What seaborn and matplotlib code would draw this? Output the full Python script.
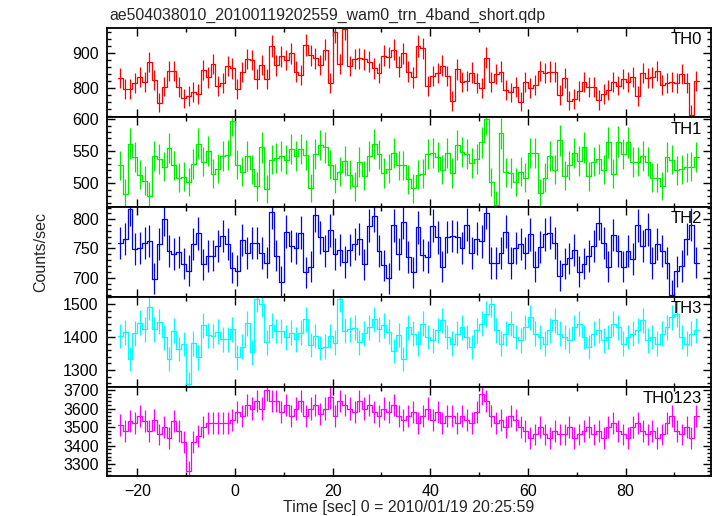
import numpy as np
import matplotlib
matplotlib.use("Agg")
import matplotlib.pyplot as plt
import seaborn as sns
from matplotlib.ticker import MultipleLocator

# ---------------- data (1-s bins) ----------------
bin_start = -23.5
bin_width = 1.0

th0 = [829, 798, 798, 816, 833, 819, 875, 824, 759, 805, 850, 850, 803, 771, 778, 790, 783, 852, 831, 869,
       807, 816, 864, 857, 798, 847, 884, 881, 826, 867, 826, 921, 866, 892, 881, 900, 848,
       838, 924, 895, 886, 867, 911, 814, 962, 869, 969, 864, 884, 886, 883, 876, 857, 843, 893, 889, 911,
       862, 900, 848, 831, 921, 914, 807, 835, 843, 865, 835, 764, 854, 818, 820, 845, 814, 800, 887, 818,
       841, 848, 795,
       788, 803, 762, 819, 800, 810, 850, 843, 848, 846, 781, 829, 765, 769, 793, 817, 803, 803, 767, 783,
       795, 819, 808, 826, 819, 833, 778, 843, 829, 831, 850, 810, 816, 818, 816, 841, 814, 724, 821]

th1 = [528, 484, 562, 541, 513, 504, 480, 542, 538, 526, 555, 528, 509, 510, 502, 530, 562, 534, 550, 515,
       523, 543, 544, 598, 529, 518, 543, 522, 495, 556, 491, 537, 540, 542, 537, 554, 543, 554, 544, 493,
       546, 560, 556, 529, 507, 518, 535, 513, 495, 533, 512, 542, 561, 545, 516, 523, 547, 528, 528,
       506, 492, 513, 515, 546, 548, 541, 521, 548, 516, 560, 549, 546, 532, 538, 564, 600, 502, 466, 578,
       517, 516, 502, 518, 509, 548, 548, 485, 509, 542, 521, 567, 512, 528, 548, 535, 556, 511, 534, 538,
       521, 564, 515, 565, 546, 564, 533, 534, 543, 534, 509, 509, 496, 541, 537, 520, 522, 525, 526, 541]

th2 = [759, 766, 817, 749, 750, 759, 763, 698, 757, 800, 745, 740, 744, 724, 712, 757, 776, 723, 737, 738,
       754, 771, 757, 717, 712, 765, 743, 759, 759, 742, 726, 812, 738, 693, 779, 754, 750, 777, 709, 719,
       807, 769, 746, 781, 741, 747, 727, 747, 757, 766, 723, 789, 806, 746, 721, 699, 790, 741, 795, 736,
       709,
       786, 739, 735, 789, 769, 719, 770, 771, 770, 750, 791, 743, 767, 762, 811, 725, 725, 743, 779, 725,
       750, 757, 742, 774, 719, 753, 774, 777, 759, 703, 724, 733, 747, 710, 724, 737, 754, 793, 760, 719,
       773, 746, 719, 745, 732, 790, 755, 783, 725, 758, 746, 725, 670, 711, 720, 766, 791, 726]

th3 = [1403, 1414, 1332, 1411, 1443, 1423, 1490, 1423, 1446, 1399, 1332, 1419, 1363, 1378, 1257, 1381,
       1338, 1436, 1405, 1403, 1416, 1393, 1393, 1423, 1338, 1371, 1441, 1353, 1514, 1499, 1384, 1436,
       1418, 1418, 1399, 1413, 1393, 1413, 1454, 1376, 1403, 1366, 1371, 1403, 1383, 1514, 1419, 1424,
       1428, 1384, 1411, 1429, 1454, 1424, 1436, 1416, 1358, 1406, 1332, 1429,
       1410, 1380, 1440, 1400, 1390, 1420, 1450, 1400, 1380, 1410,
       1430, 1400, 1370, 1420, 1440, 1470, 1500, 1420, 1380, 1410,
       1440, 1400, 1390, 1430, 1460, 1410, 1400, 1380, 1420, 1450,
       1410, 1400, 1390, 1430, 1440, 1400, 1370, 1410, 1420, 1390,
       1400, 1440, 1430, 1380, 1400, 1410, 1420, 1450, 1390, 1400,
       1380, 1410, 1430, 1460, 1470, 1400, 1380, 1410, 1420]

th0123 = [3510, 3480, 3530, 3520, 3560, 3530, 3480, 3540, 3460, 3500,
          3440, 3530, 3480, 3420, 3260, 3420, 3450, 3500, 3520, 3520,
          3520, 3520, 3520, 3540, 3580, 3560, 3620, 3600, 3640, 3600,
          3700, 3640, 3640, 3580, 3620, 3560, 3600, 3640, 3560, 3600,
          3620, 3570, 3600, 3660, 3560, 3640, 3620, 3600, 3580, 3640,
          3600, 3620, 3580, 3560, 3600, 3580, 3620, 3560, 3540, 3560,
          3580, 3520, 3560, 3600, 3540, 3580, 3520, 3560, 3560, 3520,
          3560, 3540, 3520, 3580, 3680, 3640, 3560, 3520, 3540, 3500,
          3560, 3540, 3500, 3480, 3440, 3460, 3500, 3460, 3440, 3480,
          3460, 3460, 3500, 3440, 3460, 3480, 3500, 3460, 3480, 3440,
          3500, 3520, 3480, 3460, 3440, 3500, 3520, 3480, 3460, 3480,
          3440, 3460, 3520, 3560, 3480, 3460, 3500, 3440, 3560]

panel_names = ["TH0", "TH1", "TH2", "TH3", "TH0123"]
panel_colors = ["#ff0000", "#00ee00", "#0000ff", "#00ffff", "#ff00ff"]
panel_ylims = [(717, 974), (463, 603), (667.5, 821), (1250, 1522), (3237, 3719)]
panel_major = [100, 50, 50, 100, 100]
panel_minor = [20, 10, 10, 20, 20]
xlim = (-26.2, 97.5)

title = "ae504038010_20100119202559_wam0_trn_4band_short.qdp"
xlabel = "Time [sec] 0 = 2010/01/19 20:25:59"
ylabel = "Counts/sec"

# ---------------- drawing ----------------
sns.set_theme(style="ticks")
plt.rcParams["font.family"] = ["Liberation Sans", "DejaVu Sans"]
plt.rcParams["font.size"] = 11

W, H = 717, 516
fig = plt.figure(figsize=(W / 100, H / 100), dpi=100)
edges_px = [27.5, 117.3, 207.0, 296.7, 386.5, 475.7]
left_px, right_px = 107, 711

series = [th0, th1, th2, th3, th0123]
axes = []
for i, vals in enumerate(series):
    top, bot = edges_px[i], edges_px[i + 1]
    ax = fig.add_axes([left_px / W, 1 - bot / H, (right_px - left_px) / W, (bot - top) / H])
    axes.append(ax)
    v = np.asarray(vals, dtype=float)
    t = bin_start + bin_width * np.arange(len(v))
    err = np.sqrt(v * bin_width) / bin_width
    tt = np.r_[t[0] - bin_width / 2, t, t[-1] + bin_width / 2]
    vv = np.r_[v[0], v, v[-1]]
    c = panel_colors[i]
    sns.lineplot(x=tt, y=vv, drawstyle="steps-mid", color=c, lw=0.9, ax=ax,
                 estimator=None, sort=False)
    ax.errorbar(t, v, yerr=err, fmt="none", ecolor=c, elinewidth=0.9, capsize=0)
    ax.set_xlim(*xlim)
    ax.set_ylim(*panel_ylims[i])
    ax.set_xlabel("")
    ax.set_ylabel("")
    ax.xaxis.set_major_locator(MultipleLocator(20))
    ax.xaxis.set_minor_locator(MultipleLocator(10))
    ax.yaxis.set_major_locator(MultipleLocator(panel_major[i]))
    ax.yaxis.set_minor_locator(MultipleLocator(panel_minor[i]))
    ax.tick_params(which="both", direction="in", top=True, right=True, colors="black",
                   labelsize=11.5, width=1.0)
    ax.tick_params(which="major", length=6, pad=6)
    ax.tick_params(which="minor", length=3)
    for s in ax.spines.values():
        s.set_linewidth(1.3)
        s.set_color("black")
    if i < len(series) - 1:
        ax.tick_params(labelbottom=False)
    ax.text(0.985, 0.95, panel_names[i], transform=ax.transAxes, ha="right", va="top",
            fontsize=12, color="black")

axes[-1].set_xlabel(xlabel, fontsize=11.5, labelpad=0.5)
fig.text(109 / W, 1 - 20 / H, title, ha="left", va="baseline", fontsize=11.4)
fig.text(41 / W, 1 - 252 / H, ylabel, rotation=90, ha="center", va="center", fontsize=11.5)

fig.savefig("out.png", dpi=100)
